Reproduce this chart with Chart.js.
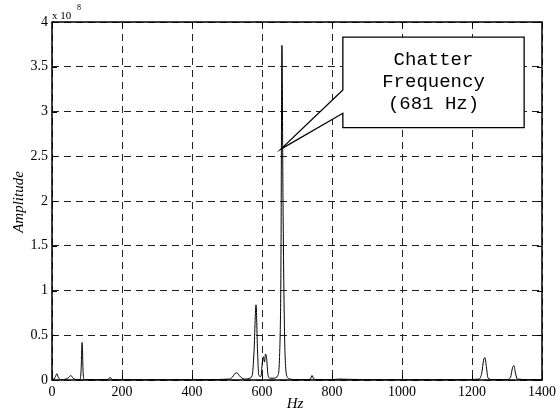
<!DOCTYPE html>
<html>
<head>
<meta charset="utf-8">
<script src="https://cdn.jsdelivr.net/npm/chart.js@4"></script>
<style>
  html, body { margin: 0; padding: 0; background: #fff; }
  #wrap { width: 560px; height: 418px; }
</style>
</head>
<body>
<div id="wrap"><canvas id="grafico-espectro" width="560" height="418"></canvas></div>
<script>
// Spectrum data (amplitude in units of 1e8)
const freqHz = [0, 6, 10, 14, 18, 26, 40, 48, 54, 60, 70, 80, 83, 86, 89, 92, 120, 160, 166, 172,
    250, 350, 450, 505, 515, 522, 528, 535, 543, 555, 565, 572, 577, 583, 587, 591, 597, 601, 604,
    607, 610, 613, 617, 623, 635, 645, 650, 654, 657, 660, 664, 668, 673, 680, 700, 730, 738, 743,
    748, 760, 800, 820, 900, 1000, 1100, 1180, 1220, 1228, 1233, 1237, 1241, 1246, 1260, 1300, 1310,
    1316, 1320, 1324, 1330, 1360, 1400];
const amplitude = [0.01, 0.01, 0.04, 0.07, 0.03, 0.005, 0.01, 0.03, 0.05, 0.02, 0.005, 0.005, 0.1, 0.42, 0.08, 0.005, 0.005, 0.005, 0.03, 0.005,
    0.003, 0.003, 0.005, 0.01, 0.03, 0.07, 0.08, 0.05, 0.02, 0.01, 0.02, 0.05, 0.3, 0.84, 0.35, 0.05, 0.04, 0.2, 0.26,
    0.2, 0.29, 0.25, 0.06, 0.02, 0.02, 0.05, 0.25, 1.2, 3.74, 2.0, 0.6, 0.12, 0.03, 0.01, 0.005, 0.005, 0.01, 0.05,
    0.01, 0.005, 0.005, 0.01, 0.003, 0.003, 0.003, 0.005, 0.01, 0.08, 0.22, 0.25, 0.15, 0.02, 0.005, 0.005, 0.03,
    0.14, 0.16, 0.08, 0.01, 0.005, 0.005];

const xTicks = [0, 200, 400, 600, 800, 1000, 1200, 1400];
const yTicks = [0, 0.5, 1, 1.5, 2, 2.5, 3, 3.5, 4];
const xTickLabels = ['0', '200', '400', '600', '800', '1000', '1200', '1400'];
const yTickLabels = ['0', '0.5', '1', '1.5', '2', '2.5', '3', '3.5', '4'];

const calloutLines = ['Chatter', 'Frequency', '(681 Hz)'];

const serif = '"Liberation Serif", "Times New Roman", serif';

// frame, inner ticks, axis titles and the callout box
const extras = {
    id: 'extras',
    afterDraw(chart) {
        const ctx = chart.ctx;
        const a = chart.chartArea;
        const xs = chart.scales.x, ys = chart.scales.y;
        ctx.save();
        ctx.strokeStyle = '#000';
        ctx.lineWidth = 1;
        ctx.setLineDash([]);
        // inner ticks
        ctx.beginPath();
        xTicks.forEach(v => {
            const px = Math.round(xs.getPixelForValue(v)) + 0.5;
            ctx.moveTo(px, a.bottom); ctx.lineTo(px, a.bottom - 5);
            ctx.moveTo(px, a.top); ctx.lineTo(px, a.top + 5);
        });
        yTicks.forEach(v => {
            const py = Math.round(ys.getPixelForValue(v)) + 0.5;
            ctx.moveTo(a.left, py); ctx.lineTo(a.left + 5, py);
            ctx.moveTo(a.right, py); ctx.lineTo(a.right - 5, py);
        });
        ctx.stroke();
        // frame
        ctx.lineWidth = 1.5;
        ctx.strokeRect(a.left, a.top, a.right - a.left, a.bottom - a.top);

        // callout
        const L = xs.getPixelForValue(831), R = xs.getPixelForValue(1349);
        const T = ys.getPixelForValue(3.83), B = ys.getPixelForValue(2.82);
        const p1 = ys.getPixelForValue(3.24), p2 = ys.getPixelForValue(2.98);
        const tx = xs.getPixelForValue(654), ty = ys.getPixelForValue(2.58);
        ctx.beginPath();
        ctx.moveTo(L, T); ctx.lineTo(R, T); ctx.lineTo(R, B); ctx.lineTo(L, B);
        ctx.lineTo(L, p2); ctx.lineTo(tx, ty); ctx.lineTo(L, p1); ctx.closePath();
        ctx.fillStyle = '#fff';
        ctx.fill();
        ctx.lineWidth = 1.3;
        ctx.stroke();
        ctx.fillStyle = '#000';
        ctx.font = '19px "Liberation Mono", "Courier New", monospace';
        ctx.textAlign = 'center';
        ctx.textBaseline = 'middle';
        const cx = (L + R) / 2, cy = (T + B) / 2;
        calloutLines.forEach((t, i) => ctx.fillText(t, cx, cy + (i - 1) * 22));

        // axis titles
        ctx.font = 'italic 15px ' + serif;
        ctx.fillText('Hz', (a.left + a.right) / 2 - 2, 404);
        ctx.save();
        ctx.translate(19, 202);
        ctx.rotate(-Math.PI / 2);
        ctx.fillText('Amplitude', 0, 0);
        ctx.restore();
        // exponent
        ctx.textAlign = 'left';
        ctx.textBaseline = 'alphabetic';
        ctx.font = '11px ' + serif;
        ctx.fillText('x 10', a.left, 19);
        ctx.font = '8px ' + serif;
        ctx.fillText('8', a.left + 25, 10);
        ctx.restore();
    }
};

const ctxEspectro = document.getElementById('grafico-espectro').getContext('2d');
const graficoEspectro = new Chart(ctxEspectro, {
    type: 'line',
    data: {
        datasets: [{
            label: 'Amplitude',
            data: freqHz.map((f, i) => ({ x: f, y: amplitude[i] })),
            borderColor: '#000',
            borderWidth: 1,
            pointRadius: 0,
            fill: false,
            cubicInterpolationMode: 'monotone'
        }]
    },
    options: {
        responsive: false,
        animation: false,
        layout: { padding: { left: 0, right: 17, top: 22, bottom: 0 } },
        plugins: { legend: { display: false }, tooltip: { enabled: false } },
        scales: {
            x: {
                type: 'linear',
                min: 0,
                max: 1400,
                afterBuildTicks: s => { s.ticks = xTicks.map(v => ({ value: v })); },
                afterFit: s => { s.height = 38; },
                ticks: {
                    color: '#000',
                    padding: 4,
                    maxRotation: 0,
                    font: { family: serif, size: 14 },
                    callback: (v) => xTickLabels[xTicks.indexOf(v)]
                },
                grid: { color: '#222', drawTicks: false, lineWidth: 1 },
                border: { display: false, dash: [7, 5] }
            },
            y: {
                type: 'linear',
                min: 0,
                max: 4,
                afterBuildTicks: s => { s.ticks = yTicks.map(v => ({ value: v })); },
                afterFit: s => { s.width = 52; },
                ticks: {
                    color: '#000',
                    padding: 4,
                    font: { family: serif, size: 14 },
                    callback: (v) => yTickLabels[yTicks.indexOf(v)]
                },
                grid: { color: '#222', drawTicks: false, lineWidth: 1 },
                border: { display: false, dash: [7, 5] }
            }
        }
    },
    plugins: [extras]
});
</script>
</body>
</html>
